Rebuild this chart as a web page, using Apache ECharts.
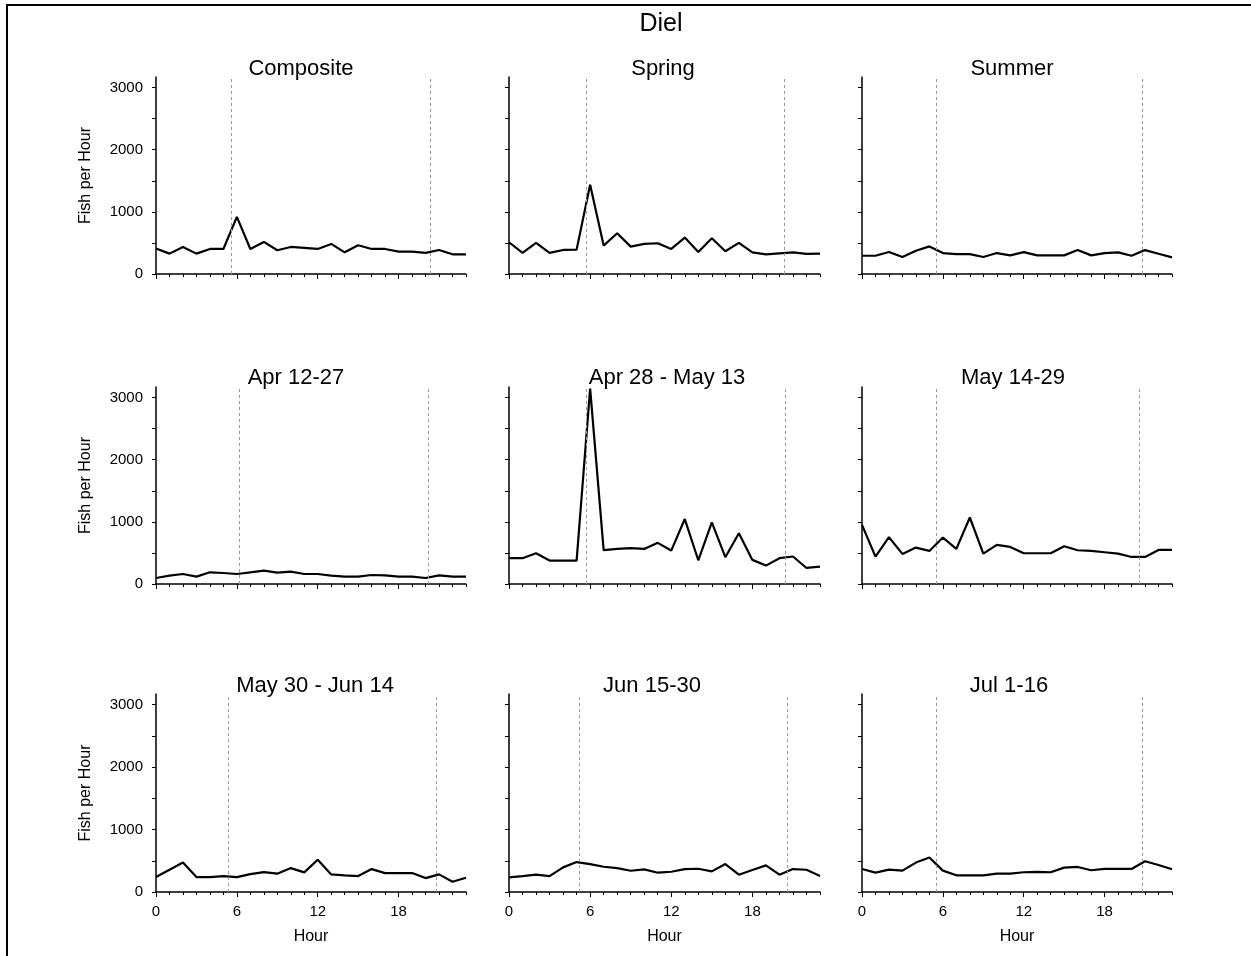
<!DOCTYPE html>
<html>
<head>
<meta charset="utf-8">
<script src="https://cdn.jsdelivr.net/npm/echarts@6/dist/echarts.min.js"></script>
<style>
html,body{margin:0;padding:0;background:#fff;}
#chart{width:1251px;height:956px;}
</style>
</head>
<body>
<div id="chart"></div>
<script>
// ---------- data ----------
const hours = [0,1,2,3,4,5,6,7,8,9,10,11,12,13,14,15,16,17,18,19,20,21,22,23];
const panelTitles = ['Composite','Spring','Summer','Apr 12-27','Apr 28 - May 13','May 14-29','May 30 - Jun 14','Jun 15-30','Jul 1-16'];

const composite = [409,328,435,328,403,403,919,403,516,382,435,420,403,484,349,462,403,403,360,360,339,387,317,317];
const spring    = [511,339,500,339,387,392,1435,457,656,441,484,495,403,586,355,575,366,500,349,317,333,349,323,328];
const summer    = [294,294,353,273,374,444,337,321,321,273,337,300,353,300,300,300,385,300,337,348,294,385,326,267];
const apr12_27  = [97,134,161,118,188,177,161,188,215,183,199,161,161,134,118,118,145,140,118,118,97,140,118,118];
const apr28_may13 = [415,415,495,377,377,377,3145,544,565,576,565,662,538,1045,382,991,431,818,388,296,415,442,258,280];
const may14_29  = [952,441,753,484,586,532,747,565,1070,489,629,597,495,495,495,608,543,532,511,489,435,435,548,548];
const may30_jun14 = [239,356,473,239,239,255,239,287,319,293,383,314,516,282,266,255,367,303,303,303,223,282,165,229];
const jun15_30  = [234,255,277,255,394,479,447,404,383,340,362,309,324,367,372,330,447,277,351,426,277,367,356,255];
const jul1_16   = [369,310,358,342,471,551,342,267,267,267,294,294,316,321,316,390,401,348,369,369,369,492,433,364];

const panelValues = [composite, spring, summer, apr12_27, apr28_may13, may14_29, may30_jun14, jun15_30, jul1_16];

// sunrise / sunset hours (dashed reference lines)
const sunrise = [5.58,5.68,5.48,6.2,5.72,5.48,5.36,5.2,5.48];
const sunset  = [20.37,20.35,20.76,20.2,20.4,20.6,20.8,20.6,20.76];

const xTickLabels = [0,6,12,18];
const xMinorTicks = [0,1,2,3,4,5,6,7,8,9,10,11,12,13,14,15,16,17,18,19,20,21,22,23];
const yTickLabels = [0,1000,2000,3000];
const yTicks = [0,500,1000,1500,2000,2500,3000];
const yMax = 3170;
const xMax = 23;

// ---------- layout ----------
const colLeft = [156, 509, 862];
const colWidth = [310, 311, 310];
const rowTop = [77, 387, 694];
const rowHeight = [197, 197, 198];
const titlePos = [[296,66],[658,66],[1007,66],[291,375],[662,375],[1008,375],[310,683],[647,683],[1004,683]];

const FONT = 'Liberation Sans, Arial, Helvetica, sans-serif';

const grids = [], xAxes = [], yAxes = [], series = [], titles = [];

titles.push({
  text: 'Diel', left: 656, top: 7, textAlign: 'center',
  textStyle: {fontFamily: FONT, fontSize: 25, fontWeight: 'normal', color: '#000'}
});

const plain = v => String(v);

for (let i = 0; i < 9; i++) {
  const r = Math.floor(i / 3), c = i % 3;
  grids.push({left: colLeft[c], top: rowTop[r], width: colWidth[c], height: rowHeight[r], containLabel: false});
  const bottomRow = r === 2, leftCol = c === 0;
  // minor x axis (hourly ticks)
  xAxes.push({
    type: 'value', gridIndex: i, position: 'bottom', min: 0, max: xMax, interval: 1,
    axisLine: {show: true, onZero: false, lineStyle: {color: '#000', width: 1.5}},
    axisTick: {show: true, length: 3, customValues: xMinorTicks, lineStyle: {color: '#000', width: 1}},
    axisLabel: {show: false},
    splitLine: {show: false}
  });
  // major x axis (labels every 6 h)
  xAxes.push({
    type: 'value', gridIndex: i, position: 'bottom', offset: 0, min: 0, max: xMax, interval: 6,
    axisLine: {show: false, onZero: false},
    axisTick: {show: true, length: 5, customValues: xTickLabels, lineStyle: {color: '#000', width: 1}},
    axisLabel: {show: bottomRow, customValues: xTickLabels, formatter: plain, margin: 12, fontFamily: FONT, fontSize: 15, color: '#000'},
    splitLine: {show: false},
    name: bottomRow ? 'Hour' : '', nameLocation: 'middle', nameGap: 37,
    nameTextStyle: {fontFamily: FONT, fontSize: 16, color: '#000'}
  });
  yAxes.push({
    type: 'value', gridIndex: i, position: 'left', min: 0, max: yMax,
    axisLine: {show: true, onZero: false, lineStyle: {color: '#000', width: 1.5}},
    axisTick: {show: true, length: 4, customValues: yTicks, lineStyle: {color: '#000', width: 1}},
    axisLabel: {show: leftCol, customValues: yTickLabels, formatter: plain, margin: 13, fontFamily: FONT, fontSize: 15, color: '#000'},
    splitLine: {show: false},
    name: leftCol ? 'Fish per Hour' : '', nameLocation: 'middle', nameGap: 62,
    nameTextStyle: {fontFamily: FONT, fontSize: 16, color: '#000'}
  });
  series.push({
    type: 'line', xAxisIndex: 2 * i, yAxisIndex: i,
    data: hours.map((h, k) => [h, panelValues[i][k]]),
    symbol: 'none', showSymbol: false,
    lineStyle: {color: '#000', width: 2.2},
    itemStyle: {color: '#000'},
    animation: false, silent: true,
    markLine: {
      silent: true, symbol: ['none', 'none'], animation: false,
      label: {show: false},
      lineStyle: {color: '#999', width: 1, type: [3, 3]},
      data: [{xAxis: sunrise[i]}, {xAxis: sunset[i]}]
    }
  });
  titles.push({
    text: panelTitles[i], left: titlePos[i][0], top: titlePos[i][1] - 13, textAlign: 'center',
    textStyle: {fontFamily: FONT, fontSize: 22, fontWeight: 'normal', color: '#000'}
  });
}

const chart = echarts.init(document.getElementById('chart'), null, {renderer: 'canvas'});
chart.setOption({
  backgroundColor: '#fff',
  animation: false,
  textStyle: {fontFamily: FONT},
  title: titles,
  grid: grids,
  xAxis: xAxes,
  yAxis: yAxes,
  series: series,
  graphic: [{
    type: 'rect', silent: true, z: 100,
    shape: {x: 7, y: 5, width: 1300, height: 1000},
    style: {fill: 'none', stroke: '#000', lineWidth: 2}
  }]
});
</script>
</body>
</html>
